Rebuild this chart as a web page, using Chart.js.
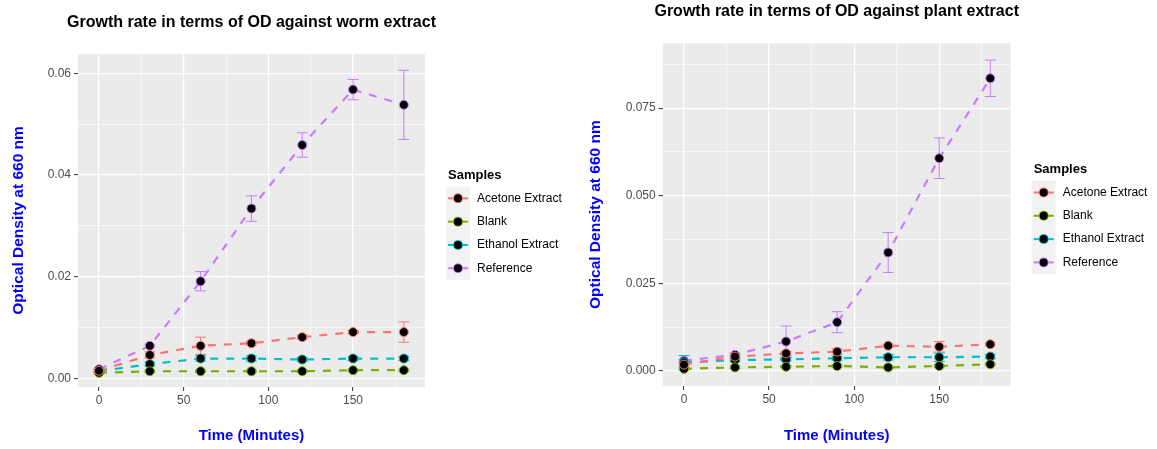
<!DOCTYPE html>
<html>
<head>
<meta charset="utf-8">
<title>Growth rate in terms of OD</title>
<script src="https://cdn.jsdelivr.net/npm/chart.js@4.4.1/dist/chart.umd.min.js"></script>
<style>
  body { margin: 0; background: #fff; }
  #worm { position: absolute; left: 0; top: 0; }
  #plant { position: absolute; left: 580px; top: 0; }
</style>
</head>
<body>
<canvas id="worm" width="580" height="449"></canvas>
<canvas id="plant" width="577" height="449"></canvas>
<script>
const timePoints = [0, 30, 60, 90, 120, 150, 180];
const sampleNames = ['Acetone Extract', 'Blank', 'Ethanol Extract', 'Reference'];
const timeTicks = [0, 50, 100, 150];

// worm extract: mean OD at 660 nm and its error
const wormAcetone = [0.0015, 0.0046, 0.0064, 0.0069, 0.0081, 0.0091, 0.0091];
const wormAcetoneErr = [0.0002, 0.0006, 0.0017, 0.0004, 0.0004, 0.0003, 0.0020];
const wormBlank = [0.0011, 0.0014, 0.0014, 0.0014, 0.0014, 0.0016, 0.0016];
const wormBlankErr = [0.0002, 0.0002, 0.0002, 0.0002, 0.0002, 0.0002, 0.0002];
const wormEthanol = [0.0014, 0.0028, 0.0039, 0.0039, 0.0037, 0.0039, 0.0039];
const wormEthanolErr = [0.0002, 0.0004, 0.0005, 0.0005, 0.0004, 0.0004, 0.0004];
const wormReference = [0.0018, 0.0064, 0.0191, 0.0334, 0.0459, 0.0568, 0.0538];
const wormReferenceErr = [0.0002, 0.0003, 0.0019, 0.0025, 0.0024, 0.0020, 0.0068];
const wormTicks = [0, 0.02, 0.04, 0.06];
const wormTickLabels = ['0.00', '0.02', '0.04', '0.06'];

// plant extract
const plantAcetone = [0.0018, 0.0041, 0.0050, 0.0055, 0.0072, 0.0069, 0.0076];
const plantAcetoneErr = [0.0003, 0.0004, 0.0005, 0.0008, 0.0004, 0.0015, 0.0004];
const plantBlank = [0.0006, 0.0010, 0.0012, 0.0014, 0.0010, 0.0014, 0.0019];
const plantBlankErr = [0.0003, 0.0003, 0.0003, 0.0003, 0.0003, 0.0003, 0.0003];
const plantEthanol = [0.0024, 0.0031, 0.0033, 0.0036, 0.0039, 0.0039, 0.0041];
const plantEthanolErr = [0.0020, 0.0004, 0.0005, 0.0005, 0.0008, 0.0012, 0.0006];
const plantReference = [0.0029, 0.0046, 0.0084, 0.0139, 0.0338, 0.0607, 0.0835];
const plantReferenceErr = [0.0003, 0.0005, 0.0044, 0.0030, 0.0057, 0.0058, 0.0052];
const plantTicks = [0, 0.025, 0.05, 0.075];
const plantTickLabels = ['0.000', '0.025', '0.050', '0.075'];

const sampleColours = ['#F8766D', '#7CAE00', '#00BFC4', '#C77CFF'];
const fontFamily = '"Liberation Sans", Arial, Helvetica, sans-serif';

Chart.defaults.font.family = fontFamily;

// major ticks plus the minor grid lines half way between them
function withMinor(majors, min, max) {
  const step = majors[1] - majors[0];
  const all = [];
  for (let v = majors[0] - step / 2; v <= max; v += step / 2) {
    if (v >= min) all.push(+v.toFixed(6));
  }
  return all;
}

function labelFor(value, majors, labels) {
  const i = majors.findIndex(m => Math.abs(m - value) < 1e-9);
  return i < 0 ? '' : labels[i];
}

function isMajor(value, majors) {
  return majors.some(m => Math.abs(m - value) < 1e-9);
}

// grey ggplot-style panel, title above it and the legend on the right
const ggPanel = {
  id: 'ggPanel',
  beforeDraw(chart) {
    const { ctx, chartArea: a } = chart;
    ctx.save();
    ctx.fillStyle = '#EBEBEB';
    ctx.fillRect(a.left, a.top, a.right - a.left, a.bottom - a.top);
    ctx.restore();
  },
  afterDraw(chart, args, opts) {
    const { ctx, chartArea: a } = chart;
    ctx.save();
    ctx.fillStyle = '#000';
    ctx.font = 'bold 16px ' + fontFamily;
    ctx.textAlign = 'center';
    ctx.textBaseline = 'middle';
    ctx.fillText(opts.title, (a.left + a.right) / 2, opts.titleY);

    const midY = (a.top + a.bottom) / 2;
    const keyLeft = a.right + 21;
    const rowH = 23.3;
    const keysTop = midY + 12.8 - 2 * rowH;
    ctx.textAlign = 'left';
    ctx.font = 'bold 13px ' + fontFamily;
    ctx.fillText('Samples', keyLeft + 2, keysTop - 11);
    ctx.fillStyle = '#F2F2F2';
    ctx.fillRect(keyLeft, keysTop, 24, rowH * sampleNames.length);
    ctx.font = '12px ' + fontFamily;
    sampleNames.forEach((name, i) => {
      const cy = keysTop + rowH * (i + 0.5);
      const cx = keyLeft + 12;
      ctx.strokeStyle = sampleColours[i];
      ctx.lineWidth = 2;
      ctx.beginPath();
      ctx.moveTo(keyLeft + 2, cy);
      ctx.lineTo(keyLeft + 22, cy);
      ctx.stroke();
      ctx.fillStyle = sampleColours[i];
      ctx.beginPath();
      ctx.arc(cx, cy, 5, 0, Math.PI * 2);
      ctx.fill();
      ctx.fillStyle = '#000';
      ctx.beginPath();
      ctx.arc(cx, cy, 4, 0, Math.PI * 2);
      ctx.fill();
      ctx.fillText(name, keyLeft + 31, cy);
    });
    ctx.restore();
  }
};

// vertical error bars with caps, one per point
const errorBars = {
  id: 'errorBars',
  beforeDatasetsDraw(chart) {
    const { ctx, scales: { x, y } } = chart;
    ctx.save();
    ctx.lineWidth = 1;
    chart.data.datasets.forEach(ds => {
      ctx.strokeStyle = ds.borderColor;
      ds.data.forEach((p, k) => {
        const px = x.getPixelForValue(p.x);
        const top = y.getPixelForValue(p.y + ds.errors[k]);
        const bottom = y.getPixelForValue(p.y - ds.errors[k]);
        ctx.beginPath();
        ctx.moveTo(px, top);
        ctx.lineTo(px, bottom);
        ctx.moveTo(px - 5.5, top);
        ctx.lineTo(px + 5.5, top);
        ctx.moveTo(px - 5.5, bottom);
        ctx.lineTo(px + 5.5, bottom);
        ctx.stroke();
      });
    });
    ctx.restore();
  }
};

function growthChart(canvasId, cfg) {
  const xAll = withMinor(timeTicks, cfg.xMin, cfg.xMax);
  const yAll = withMinor(cfg.yTicks, cfg.yMin, cfg.yMax);
  const gridFor = majors => ({
    color: '#FFFFFF',
    lineWidth: c => (c.tick && isMajor(c.tick.value, majors) ? 1.2 : 0.6),
    tickColor: c => (c.tick && isMajor(c.tick.value, majors) ? '#333333' : 'rgba(0,0,0,0)'),
    tickLength: 4,
    tickWidth: 1
  });

  return new Chart(document.getElementById(canvasId), {
    type: 'line',
    data: {
      datasets: cfg.series.map((s, i) => ({
        label: sampleNames[i],
        data: timePoints.map((t, k) => ({ x: t, y: s.values[k] })),
        errors: s.errors,
        borderColor: sampleColours[i],
        borderWidth: 2.2,
        borderDash: [8, 8],
        tension: 0,
        fill: false,
        pointRadius: 4.5,
        pointHoverRadius: 4.5,
        pointBackgroundColor: '#000',
        pointBorderColor: sampleColours[i],
        pointBorderWidth: 1
      }))
    },
    options: {
      responsive: false,
      animation: false,
      devicePixelRatio: 1,
      layout: { padding: { left: 0, top: cfg.area.top, right: cfg.area.right, bottom: 0 } },
      plugins: {
        legend: { display: false },
        tooltip: { enabled: false },
        ggPanel: { title: cfg.title, titleY: cfg.titleY }
      },
      scales: {
        x: {
          type: 'linear',
          min: cfg.xMin,
          max: cfg.xMax,
          afterBuildTicks: scale => { scale.ticks = xAll.map(v => ({ value: v })); },
          afterFit: scale => { scale.height = cfg.area.bottom; },
          border: { display: false },
          grid: gridFor(timeTicks),
          ticks: {
            autoSkip: false,
            maxRotation: 0,
            padding: 2,
            color: '#4D4D4D',
            font: { size: 12 },
            callback: v => labelFor(v, timeTicks, timeTicks.map(String))
          },
          title: {
            display: true,
            text: 'Time (Minutes)',
            color: '#0000FF',
            font: { size: 15, weight: 'bold' },
            padding: { top: 0, bottom: 4 }
          }
        },
        y: {
          min: cfg.yMin,
          max: cfg.yMax,
          afterBuildTicks: scale => { scale.ticks = yAll.map(v => ({ value: v })); },
          afterFit: scale => { scale.width = cfg.area.left; },
          border: { display: false },
          grid: gridFor(cfg.yTicks),
          ticks: {
            autoSkip: false,
            padding: 3,
            color: '#4D4D4D',
            font: { size: 12 },
            callback: v => labelFor(v, cfg.yTicks, cfg.yTickLabels)
          },
          title: {
            display: true,
            text: 'Optical Density at 660 nm',
            color: '#0000FF',
            font: { size: 15.5, weight: 'bold' },
            padding: { top: cfg.yTitlePad, bottom: 0 }
          }
        }
      }
    },
    plugins: [ggPanel, errorBars]
  });
}

growthChart('worm', {
  title: 'Growth rate in terms of OD against worm extract',
  titleY: 22.7,
  area: { left: 78, top: 54, right: 155, bottom: 62 },
  xMin: -12.4, xMax: 192.5,
  yMin: -0.0017, yMax: 0.0638,
  yTicks: wormTicks, yTickLabels: wormTickLabels,
  yTitlePad: 9,
  series: [
    { values: wormAcetone, errors: wormAcetoneErr },
    { values: wormBlank, errors: wormBlankErr },
    { values: wormEthanol, errors: wormEthanolErr },
    { values: wormReference, errors: wormReferenceErr }
  ]
});

growthChart('plant', {
  title: 'Growth rate in terms of OD against plant extract',
  titleY: 11.7,
  area: { left: 82.7, top: 43.3, right: 146.3, bottom: 63 },
  xMin: -12.5, xMax: 192,
  yMin: -0.0043, yMax: 0.0935,
  yTicks: plantTicks, yTickLabels: plantTickLabels,
  yTitlePad: 6.7,
  series: [
    { values: plantAcetone, errors: plantAcetoneErr },
    { values: plantBlank, errors: plantBlankErr },
    { values: plantEthanol, errors: plantEthanolErr },
    { values: plantReference, errors: plantReferenceErr }
  ]
});
</script>
</body>
</html>
